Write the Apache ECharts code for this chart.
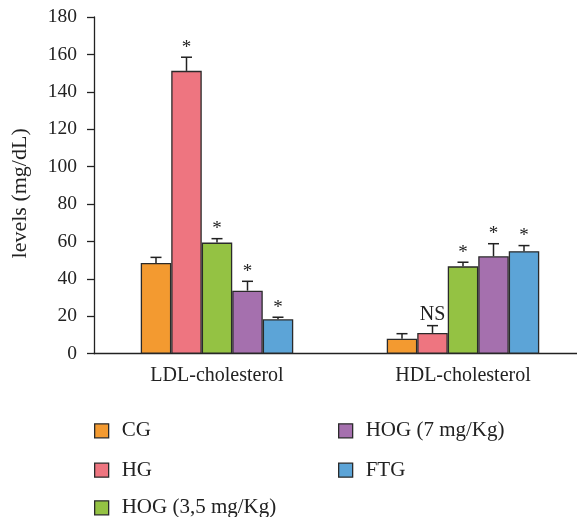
<!DOCTYPE html>
<html>
<head>
<meta charset="utf-8">
<script src="https://cdn.jsdelivr.net/npm/echarts@6/dist/echarts.min.js"></script>
<style>html,body{margin:0;padding:0;background:#fff}#c{width:577px;height:517px}</style>
</head>
<body>
<div id="c"></div>
<script>
const categories = ['LDL-cholesterol', 'HDL-cholesterol'];
const groups = ['CG', 'HG', 'HOG (3,5 mg/Kg)', 'HOG (7 mg/Kg)', 'FTG'];
const colors = ['#F39A30', '#EE7580', '#94C243', '#A570AE', '#5CA4D7'];
// values per group: [LDL, HDL]
const cgValues = [48.5, 8.0];
const hgValues = [151.2, 11.1];
const hog35Values = [59.4, 46.7];
const hog7Values = [33.7, 52.1];
const ftgValues = [18.4, 54.8];
// error (SEM) per group: [LDL, HDL]
const cgErr = [3.0, 2.7];
const hgErr = [7.3, 3.9];
const hog35Err = [2.1, 2.2];
const hog7Err = [5.0, 6.7];
const ftgErr = [1.1, 3.0];
// significance labels per group: [LDL, HDL]
const cgSig = ['', ''];
const hgSig = ['*', 'NS'];
const hog35Sig = ['*', '*'];
const hog7Sig = ['*', '*'];
const ftgSig = ['*', '*'];
const yTicks = [0, 20, 40, 60, 80, 100, 120, 140, 160, 180];

const allValues = [cgValues, hgValues, hog35Values, hog7Values, ftgValues];
const allErr = [cgErr, hgErr, hog35Err, hog7Err, ftgErr];
const allSig = [cgSig, hgSig, hog35Sig, hog7Sig, ftgSig];

const BW = 30.5;
const font = "'Liberation Serif', 'DejaVu Serif', serif";

const errData = [];
allValues.forEach((vals, s) => {
  vals.forEach((v, c) => {
    errData.push([c, s, v, v + allErr[s][c], allSig[s][c]]);
  });
});

const series = groups.map((g, i) => ({
  name: g,
  type: 'bar',
  data: allValues[i],
  barWidth: BW,
  barGap: '0%',
  itemStyle: { color: colors[i], borderColor: '#2a2a2a', borderWidth: 1.3 },
  z: 2
}));

series.push({
  name: 'errors',
  type: 'custom',
  data: errData,
  z: 3,
  renderItem: function (params, api) {
    const c = api.value(0), s = api.value(1);
    const base = api.coord([c, api.value(2)]);
    const top = api.coord([c, api.value(3)]);
    const x = base[0] + (s - 2) * BW;
    const label = errData[params.dataIndex][4];
    const children = [
      { type: 'line', shape: { x1: x, y1: base[1], x2: x, y2: top[1] }, style: { stroke: '#222', lineWidth: 1.5 } },
      { type: 'line', shape: { x1: x - 5.5, y1: top[1], x2: x + 5.5, y2: top[1] }, style: { stroke: '#222', lineWidth: 1.5 } }
    ];
    if (label) {
      const isStar = label === '*';
      children.push({
        type: 'text',
        style: {
          text: label, x: x, y: top[1] - (isStar ? 0 : 1),
          align: 'center', verticalAlign: 'bottom',
          font: (isStar ? '19px ' : '20px ') + font, fill: '#222'
        }
      });
    }
    return { type: 'group', children: children };
  }
});

const legendPos = [[94, 420.3], [94, 459.7], [94, 497.3], [338, 420.3], [338, 459.7]];
const legends = groups.map((g, i) => ({
  orient: 'vertical',
  left: legendPos[i][0], top: legendPos[i][1],
  data: [g],
  itemWidth: 14, itemHeight: 14,
  itemGap: 13,
  icon: 'rect',
  textStyle: { fontFamily: font, fontSize: 21, color: '#222', padding: [0, 0, 0, 8] },
  itemStyle: { borderColor: '#2a2a2a', borderWidth: 1.3 },
  selectedMode: false,
  padding: 0
}));

const chart = echarts.init(document.getElementById('c'));
chart.setOption({
  animation: false,
  backgroundColor: '#fff',
  grid: { left: 94, top: 17, width: 492, bottom: 163.3, containLabel: false, outerBoundsMode: 'none' },
  xAxis: {
    type: 'category',
    data: categories,
    axisLine: { lineStyle: { color: '#222', width: 1.3 } },
    axisTick: { show: false },
    axisLabel: { fontFamily: font, fontSize: 20, color: '#222', margin: 12 }
  },
  yAxis: {
    type: 'value',
    min: yTicks[0], max: yTicks[yTicks.length - 1], interval: 20,
    name: 'levels (mg/dL)',
    nameLocation: 'middle',
    nameGap: 63,
    nameTextStyle: { fontFamily: font, fontSize: 22, color: '#222', padding: [0, 16, 0, 0] },
    axisLine: { show: true, lineStyle: { color: '#222', width: 1.3 } },
    axisTick: { show: true, length: 7, lineStyle: { color: '#222', width: 1.3 } },
    splitLine: { show: false },
    axisLabel: { fontFamily: font, fontSize: 19.5, color: '#222', margin: 17 }
  },
  legend: legends,
  series: series
});
</script>
</body>
</html>
